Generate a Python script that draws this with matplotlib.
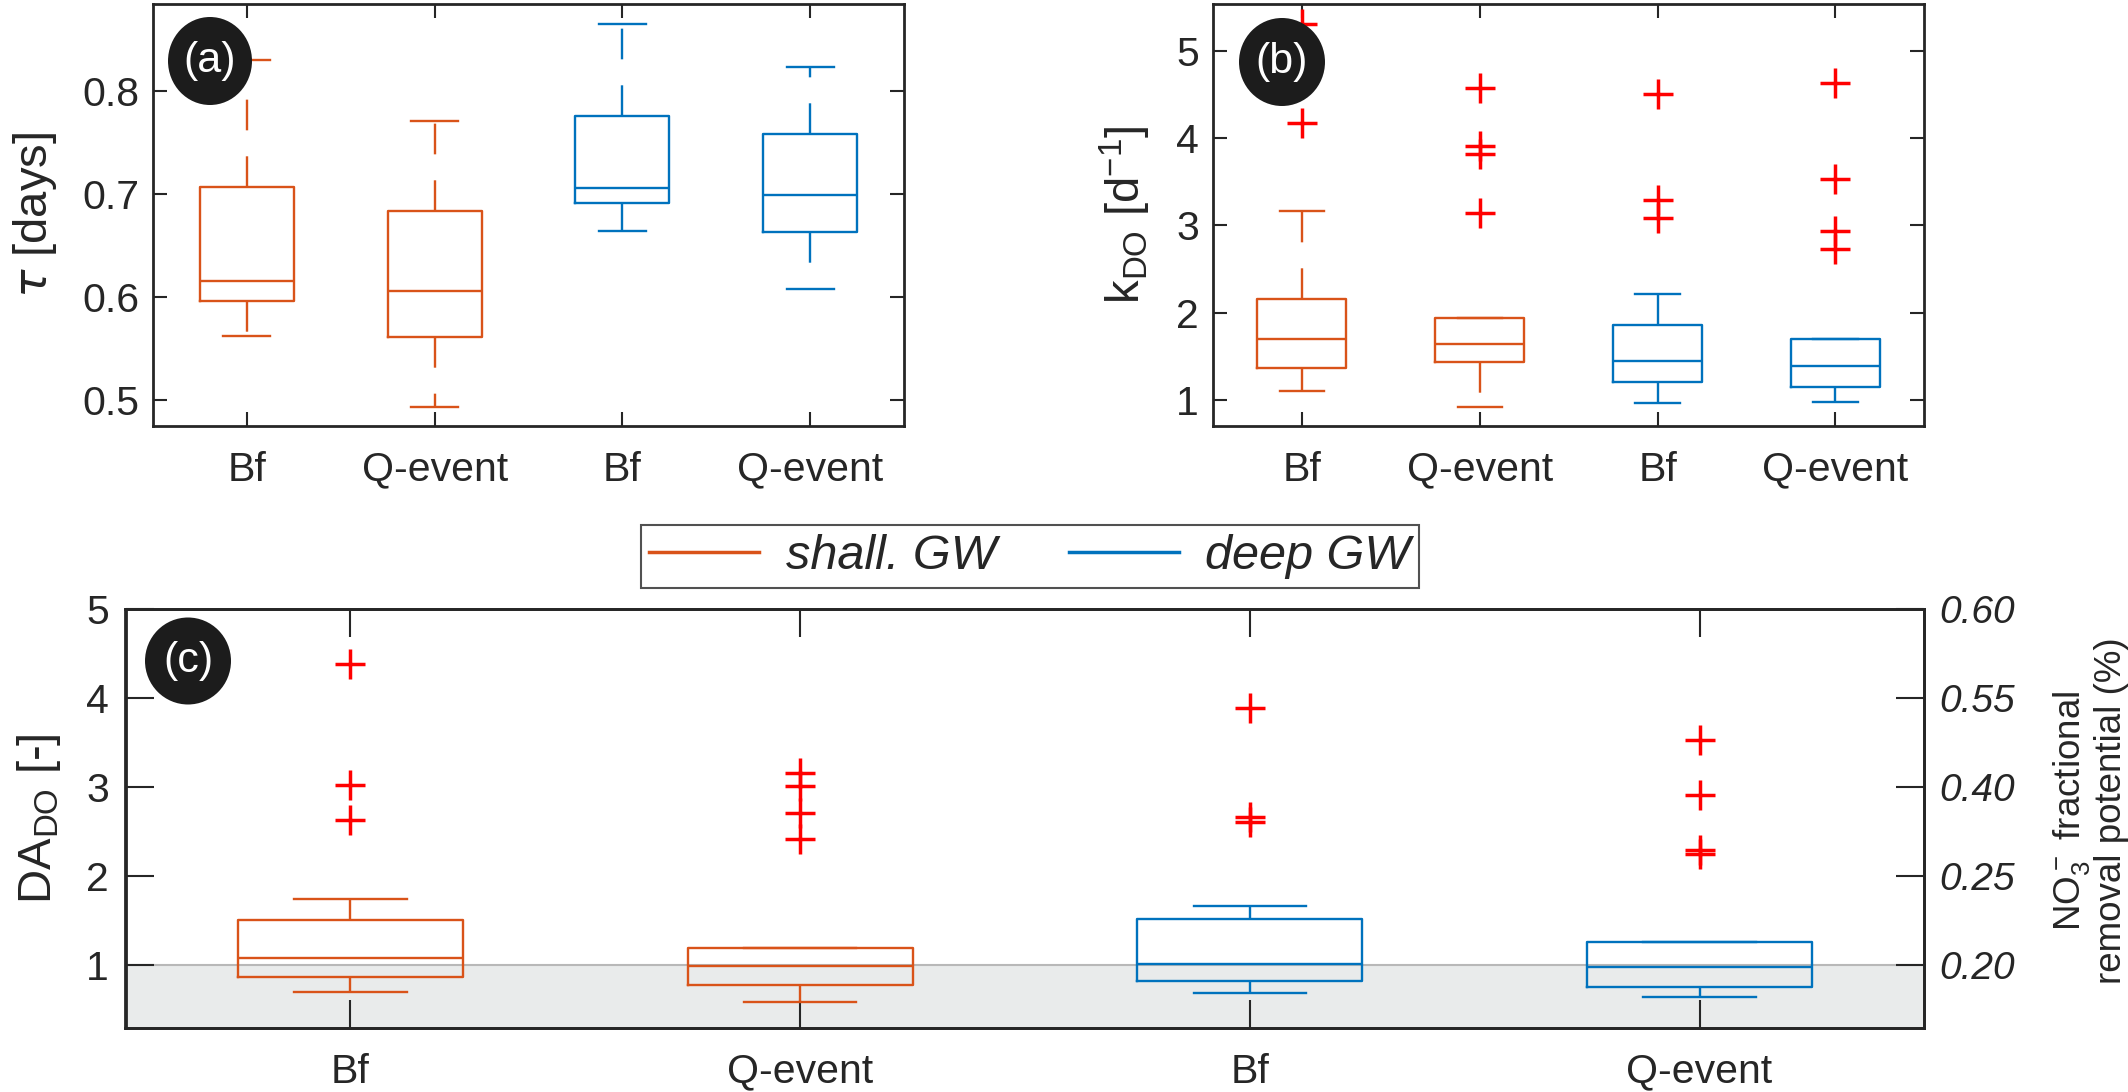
import matplotlib
matplotlib.use("Agg")
from matplotlib import pyplot as plt
from matplotlib.patches import Ellipse
from matplotlib.lines import Line2D

plt.rcParams["font.family"] = ["Liberation Sans", "DejaVu Sans"]
plt.rcParams["mathtext.default"] = "regular"

W, H = 2128, 1092
ORANGE = "#D95319"
BLUE = "#0072BD"
AXCOL = "#262626"

groups = ["Bf", "Q-event", "Bf", "Q-event"]
colours = [ORANGE, ORANGE, BLUE, BLUE]

# panel (a): residence time tau [days]
tau_whislo = [0.562, 0.493, 0.664, 0.608]
tau_q1 = [0.596, 0.561, 0.691, 0.663]
tau_med = [0.615, 0.606, 0.706, 0.699]
tau_q3 = [0.707, 0.683, 0.776, 0.758]
tau_whishi = [0.830, 0.771, 0.865, 0.823]
tau_fliers = [[], [], [], []]

# panel (b): k_DO [1/d]
k_whislo = [1.10, 0.92, 0.97, 0.975]
k_q1 = [1.37, 1.43, 1.21, 1.15]
k_med = [1.70, 1.645, 1.45, 1.394]
k_q3 = [2.16, 1.944, 1.86, 1.70]
k_whishi = [3.17, 1.944, 2.22, 1.70]
k_fliers = [[4.17, 5.31], [3.14, 3.815, 3.91, 4.58],
            [3.09, 3.29, 4.51], [2.73, 2.94, 3.53, 4.63]]

# panel (c): DA_DO [-]
da_whislo = [0.687, 0.573, 0.676, 0.634]
da_q1 = [0.859, 0.771, 0.817, 0.752]
da_med = [1.076, 0.985, 1.008, 0.973]
da_q3 = [1.496, 1.183, 1.508, 1.256]
da_whishi = [1.733, 1.183, 1.656, 1.256]
da_fliers = [[2.63, 3.023, 4.378], [2.412, 2.706, 3.015, 3.156],
             [2.603, 2.66, 3.889], [2.248, 2.286, 2.905, 3.527]]
no3_ticks = [1, 2, 3, 4, 5]
no3_labels = ["0.20", "0.25", "0.40", "0.55", "0.60"]


def draw_boxes(ax, lo, q1, med, q3, hi, fliers, ticklen):
    for i in range(4):
        stats = [dict(whislo=lo[i], q1=q1[i], med=med[i], q3=q3[i],
                      whishi=hi[i], fliers=fliers[i])]
        c = colours[i]
        ax.bxp(stats, positions=[i + 1], widths=0.5, capwidths=0.25,
               manage_ticks=False,
               boxprops=dict(color=c, lw=1.7),
               medianprops=dict(color=c, lw=1.7),
               whiskerprops=dict(color=c, lw=1.7, linestyle=(0, (13, 11))),
               capprops=dict(color=c, lw=1.7),
               flierprops=dict(marker="+", markeredgecolor="red",
                               markersize=22, markeredgewidth=2.5,
                               linestyle="none"))
    ax.set_xlim(0.5, 4.5)
    ax.set_xticks(range(1, 5))
    ax.set_xticklabels(groups)
    ax.tick_params(direction="in", top=True, right=True, length=ticklen,
                   width=1.5, labelsize=29.5, colors=AXCOL)
    ax.tick_params(axis="x", pad=18)
    ax.tick_params(axis="y", pad=10)
    for s in ax.spines.values():
        s.set_linewidth(2)
        s.set_color(AXCOL)


def badge(x, y, w, h, txt):
    fig.add_artist(Ellipse((x / W, 1 - y / H), w / W, h / H,
                           transform=fig.transFigure, fc="#1c1c1c",
                           ec="none", zorder=10))
    fig.text(x / W, 1 - y / H, txt, color="white", ha="center",
             va="center", fontsize=31, zorder=11)


fig = plt.figure(figsize=(W / 100, H / 100), dpi=100)

axa = fig.add_axes([153 / W, 1 - 425.7 / H, 751 / W, 421.4 / H])
draw_boxes(axa, tau_whislo, tau_q1, tau_med, tau_q3, tau_whishi, tau_fliers, 10)
axa.set_ylim(0.475, 0.884)
axa.set_yticks([0.5, 0.6, 0.7, 0.8])
axa.set_ylabel(r"$\mathit{\tau}$ [days]", fontsize=34, color=AXCOL)
axa.yaxis.set_label_coords(-0.125, 0.5)

axb = fig.add_axes([1213 / W, 1 - 425.7 / H, 711.4 / W, 421.4 / H])
draw_boxes(axb, k_whislo, k_q1, k_med, k_q3, k_whishi, k_fliers, 10)
axb.set_ylim(0.705, 5.535)
axb.set_yticks([1, 2, 3, 4, 5])
axb.set_ylabel(r"k$_{DO}$ [d$^{-1}$]", fontsize=34, color=AXCOL)
axb.yaxis.set_label_coords(-0.085, 0.5)

axc = fig.add_axes([125.5 / W, 1 - 1027.6 / H, 1798.9 / W, 418.4 / H])
axc.axhspan(0.2, 1, color="#E9EBEB", zorder=0)
axc.axhline(1, color="#B8B8B8", lw=1.5, zorder=0.5)
draw_boxes(axc, da_whislo, da_q1, da_med, da_q3, da_whishi, da_fliers, 20)
axc.set_ylim(0.29, 5)
axc.set_yticks([1, 2, 3, 4, 5])
axc.tick_params(axis="y", pad=12, right=False)
axc.set_ylabel(r"DA$_{DO}$ [-]", fontsize=34, color=AXCOL)
axc.yaxis.set_label_coords(-0.035, 0.5)

axr = axc.twinx()
axr.set_ylim(axc.get_ylim())
axr.set_yticks(no3_ticks)
axr.set_yticklabels(no3_labels, fontstyle="italic")
axr.tick_params(direction="in", length=20, width=1.5, labelsize=28,
                colors=AXCOL, pad=11)
for s in axr.spines.values():
    s.set_linewidth(2)
    s.set_color(AXCOL)
fig.text(2090 / W, 1 - 811 / H,
         "NO$_3^-$ fractional\nremoval potential (%)",
         rotation=90, ha="center", va="center", multialignment="center",
         fontsize=26.5, color=AXCOL, linespacing=1.05)

handles = [Line2D([], [], color=ORANGE, lw=2.5), Line2D([], [], color=BLUE, lw=2.5)]
leg = fig.legend(handles, ["shall. GW", "deep GW"], loc="center",
                 bbox_to_anchor=(1030 / W, 1 - 556.5 / H), ncol=2,
                 prop=dict(style="italic", size=35), frameon=True,
                 fancybox=False, edgecolor=AXCOL, handlelength=2.25,
                 handletextpad=0.55, columnspacing=1.5, borderpad=0.18)
leg.get_frame().set_linewidth(1.5)
for t in leg.get_texts():
    t.set_color(AXCOL)

badge(210, 61, 84, 88, "(a)")
badge(1282, 62, 86, 88, "(b)")
badge(188, 661, 86, 87, "(c)")

fig.savefig("out.png", dpi=100)
